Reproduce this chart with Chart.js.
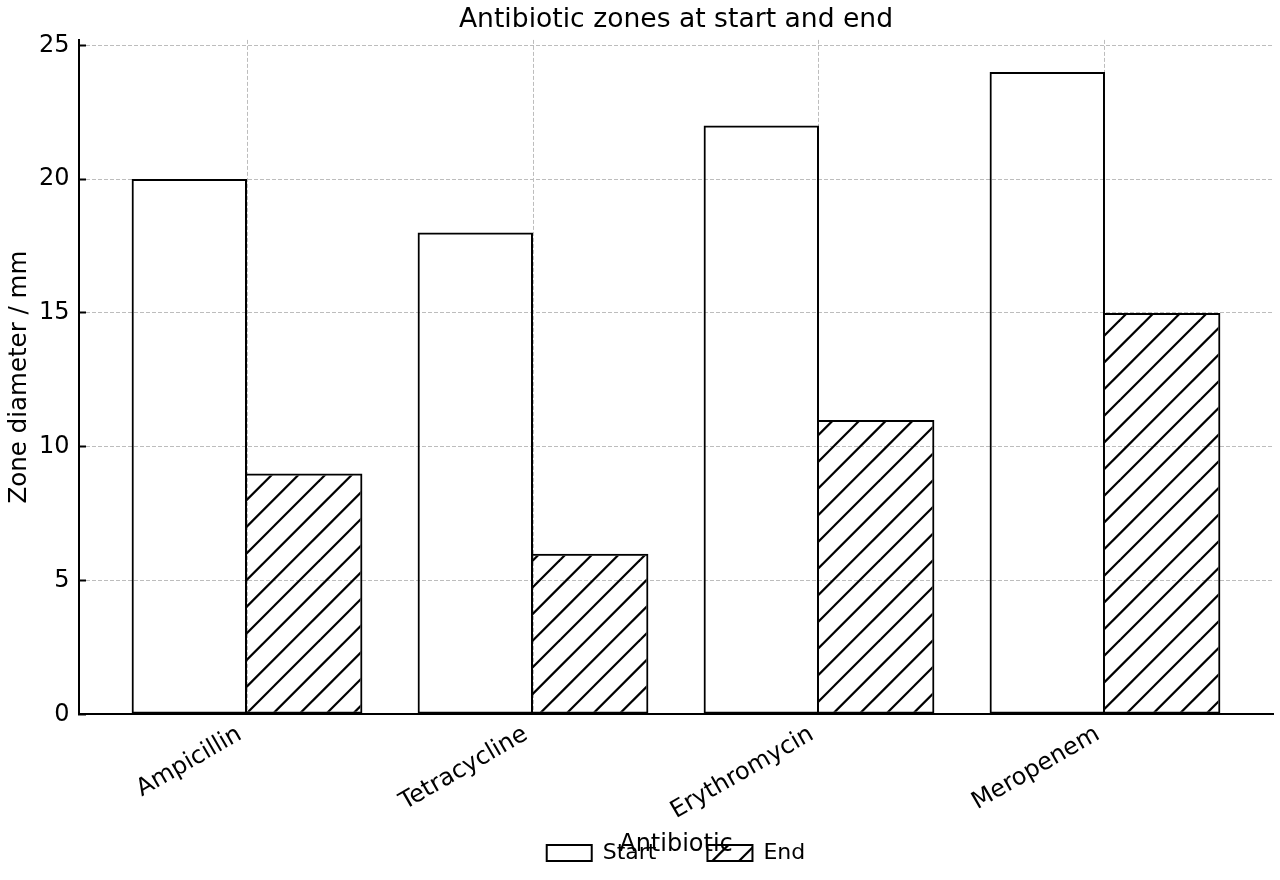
<!DOCTYPE html>
<html>
<head>
<meta charset="utf-8">
<script src="https://cdn.jsdelivr.net/npm/chart.js@4.4.0/dist/chart.umd.min.js"></script>
<style>
html,body{margin:0;padding:0;background:#ffffff;}
#wrap{width:1280px;height:880px;}
</style>
</head>
<body>
<div id="wrap"><canvas id="c" width="1280" height="880"></canvas></div>
<script>
// ---- data ----
const categories = ['Ampicillin', 'Tetracycline', 'Erythromycin', 'Meropenem'];
const startValues = [20, 18, 22, 24];
const endValues = [9, 6, 11, 15];
const seriesNames = ['Start', 'End'];
const yTicks = [0, 5, 10, 15, 20, 25];
const chartTitle = 'Antibiotic zones at start and end';
const xTitle = 'Antibiotic';
const yTitle = 'Zone diameter / mm';

// ---- hatch pattern "/" ----
function makeHatch() {
  const size = 80, period = size / 3;
  const c = document.createElement('canvas');
  c.width = size; c.height = size;
  const g = c.getContext('2d');
  g.strokeStyle = '#000';
  g.lineWidth = 2.2;
  for (let k = -2; k <= 8; k++) {
    const s = k * period;
    g.beginPath();
    g.moveTo(s + 20, -20);
    g.lineTo(-20, s + 20);
    g.stroke();
  }
  return g.createPattern(c, 'repeat');
}
const hatch = makeHatch();

const bgPlugin = {
  id: 'bg',
  beforeDraw(chart) {
    const ctx = chart.ctx;
    ctx.save();
    ctx.fillStyle = '#ffffff';
    ctx.fillRect(0, 0, chart.width, chart.height);
    ctx.restore();
    // let the rotated category labels run below the axis box (no clipping)
    const xs = chart.scales.x;
    if (xs) xs._computeLabelArea = () => undefined;
  }
};

Chart.defaults.font.family = "'DejaVu Sans', sans-serif";
Chart.defaults.color = '#000000';

const gridColor = '#bdbdbd';
const gridDash = [4, 2];

new Chart(document.getElementById('c'), {
  type: 'bar',
  data: {
    datasets: [
      {
        label: seriesNames[0],
        data: startValues.map((v, i) => ({x: i, y: v})),
        backgroundColor: 'rgba(255,255,255,0)',
        borderColor: '#000000',
        borderWidth: 2,
        borderSkipped: false
      },
      {
        label: seriesNames[1],
        data: endValues.map((v, i) => ({x: i, y: v})),
        backgroundColor: hatch,
        borderColor: '#000000',
        borderWidth: 2,
        borderSkipped: 'left'
      }
    ]
  },
  options: {
    responsive: false,
    animation: false,
    devicePixelRatio: 1,
    datasets: { bar: { categoryPercentage: 0.807, barPercentage: 1.0 } },
    layout: { padding: { left: 0, right: 7, top: 0, bottom: 6 } },
    plugins: {
      tooltip: { enabled: false },
      title: {
        display: true,
        text: chartTitle,
        fullSize: false,
        color: '#000',
        font: { size: 26.6, weight: 'normal' },
        padding: { top: 4, bottom: 4 }
      },
      legend: {
        display: true,
        position: 'bottom',
        fullSize: false,
        labels: {
          boxWidth: 45,
          boxHeight: 16,
          color: '#000',
          font: { size: 22 },
          padding: 51
        }
      }
    },
    scales: {
      x: {
        type: 'linear',
        offset: false,
        min: -0.5875,
        max: 3.5875,
        afterBuildTicks: (s) => { s.ticks = categories.map((_, i) => ({value: i})); },
        afterFit: (s) => { s.height = 76.7; },
        ticks: {
          autoSkip: false,
          minRotation: 30,
          maxRotation: 30,
          padding: 6,
          labelOffset: -7.2,
          color: '#000',
          font: { size: 24 },
          callback: (v) => categories[v]
        },
        grid: {
          display: true,
          offset: false,
          color: gridColor,
          lineWidth: 1,
          borderDash: gridDash,
          drawTicks: false
        },
        border: { display: true, color: '#000', width: 2, dash: gridDash },
        title: {
          display: true,
          text: xTitle,
          color: '#000',
          font: { size: 24 },
          padding: { top: 0, bottom: -67.7 }
        }
      },
      y: {
        type: 'linear',
        min: 0,
        max: 25.2,
        afterBuildTicks: (s) => { s.ticks = yTicks.map(v => ({value: v})); },
        afterFit: (s) => { s.width = 79; },
        ticks: {
          padding: 16.5,
          color: '#000',
          font: { size: 24 }
        },
        grid: {
          display: true,
          color: gridColor,
          lineWidth: 1,
          borderDash: gridDash,
          drawTicks: true,
          tickLength: -7,
          tickColor: '#000',
          tickWidth: 2,
          tickBorderDash: []
        },
        border: { display: true, color: '#000', width: 2, dash: gridDash },
        title: {
          display: true,
          text: yTitle,
          color: '#000',
          font: { size: 24.5 },
          padding: { top: 5, bottom: 0 }
        }
      }
    }
  },
  plugins: [bgPlugin]
});
</script>
</body>
</html>
